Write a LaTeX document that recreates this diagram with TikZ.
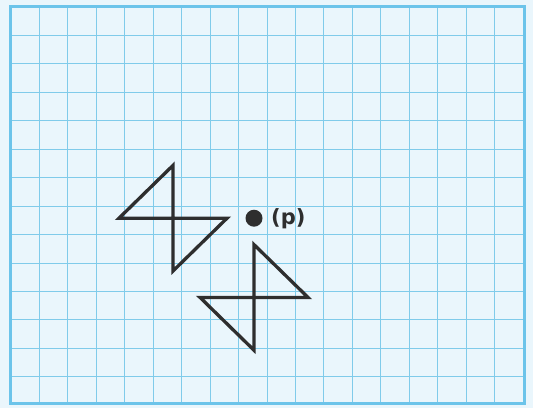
\documentclass[tikz,border=0pt]{standalone}
\usepackage{fontspec}
\usepackage{tikz}
\usetikzlibrary{positioning}
\definecolor{paper}{HTML}{EAF6FC}
\definecolor{gridblue}{HTML}{80CBEA}
\definecolor{frameblue}{HTML}{6CC4EA}
\definecolor{ink}{HTML}{2E2E2E}
\newfontfamily\labelfont{DejaVu Sans}
\tikzset{
  gridline/.style={gridblue,line width=1pt},
  frameline/.style={frameblue,line width=3pt},
  shapeline/.style={ink,line width=3.3pt,line join=miter},
  centredot/.style={circle,fill=ink,inner sep=0pt,minimum size=17pt},
}

\begin{document}
\begin{tikzpicture}[x=27pt,y=-26.4pt]
        \useasboundingbox[fill=paper] (-0.407,-0.265) rectangle (19.333,15.189);
        \draw[gridline] (0,0) grid (19,15);
        \draw[frameline] (0,0) rectangle (19,15);
        % first figure
        \coordinate (a1) at (4,8);
        \coordinate (a2) at (6,6);
        \coordinate (a3) at (6,10);
        \coordinate (a4) at (8,8);
        \draw[shapeline] (a1) -- (a2) -- (a3) -- (a4) -- cycle;
        % turned figure
        \coordinate (b1) at (9,9);
        \coordinate (b2) at (11,11);
        \coordinate (b3) at (7,11);
        \coordinate (b4) at (9,13);
        \draw[shapeline] (b1) -- (b2) -- (b3) -- (b4) -- cycle;
        \node[centredot] (p) at (9,8) {};
        \node[right=5pt of p,yshift=-1pt,ink,font=\labelfont\bfseries\fontsize{21}{23}\selectfont] (plabel) {(p)};
    \end{tikzpicture}
\end{document}
